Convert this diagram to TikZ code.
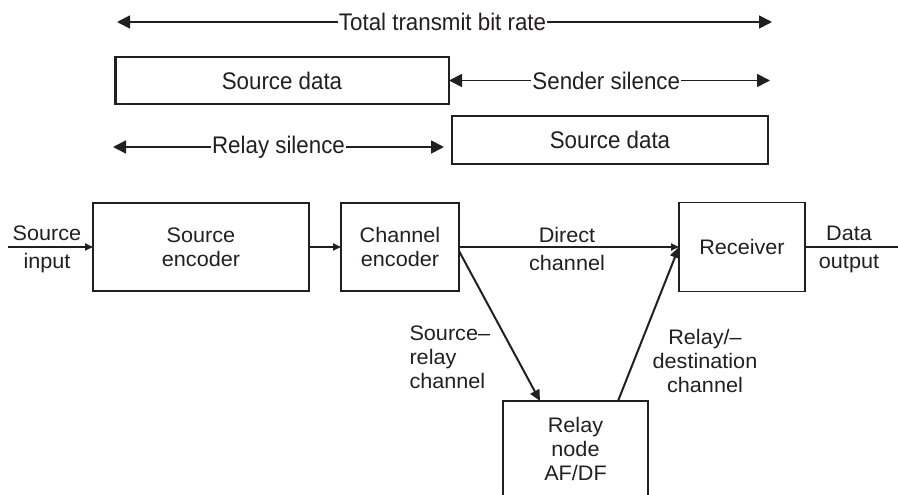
\documentclass[tikz,border=0pt]{standalone}
\usepackage{fontspec}
\usetikzlibrary{arrows.meta,calc}
\newfontfamily\botfont[FakeStretch=1.03]{Liberation Sans}
\newfontfamily\topfont[FakeStretch=0.93]{Liberation Sans}
\definecolor{ink}{RGB}{35,31,32}
\tikzset{
  box/.style={draw=ink, line width=1.8pt, inner sep=0pt, outer sep=0pt, align=center, text=ink},
  toplbl/.style={text=ink, font=\topfont\fontsize{24}{28}\selectfont},
  botlbl/.style={text=ink, align=center, font=\botfont\fontsize{21}{24}\selectfont},
  bigarr/.style={draw=ink, line width=1.8pt, {Triangle[length=13pt,width=13pt]}-{Triangle[length=13pt,width=13pt]}},
  smallarr/.style={draw=ink, line width=1.8pt, -{Triangle[length=8pt,width=7pt]}},
  midarr/.style={draw=ink, line width=2pt, -{Triangle[length=11pt,width=10pt]}},
  plain/.style={draw=ink, line width=1.8pt}
}
\begin{document}
\begin{tikzpicture}[x=1pt,y=-1pt]
\clip (0,0) rectangle (898,495);
\fill[white] (0,0) rectangle (898,495);

% timing rows
\node[box, minimum width=334pt, minimum height=47pt, toplbl] (sd1) at (282,80.5) {Source data};
\node[box, minimum width=316pt, minimum height=48pt, toplbl] (sd2) at (610,140) {Source data};
\draw[ink, line width=3pt] (sd1.north west) -- (sd1.south west);
\coordinate (tl) at (117,22);
\coordinate (tr) at (772,22);
\draw[bigarr] (tl) -- (tr) node[pos=0.497, fill=white, inner sep=1pt, toplbl] (tot) {Total transmit bit rate};
\coordinate (ssr) at (770,80.5);
\draw[bigarr] (sd1.east) -- (ssr) node[pos=0.49, fill=white, inner sep=1pt, toplbl] (ss) {Sender silence};
\coordinate (rsl) at (113,147);
\coordinate (rsr) at (444,147);
\draw[bigarr] (rsl) -- (rsr) node[midway, fill=white, inner sep=1pt, toplbl] (rs) {Relay silence};

% block diagram
\node[box, minimum width=216pt, minimum height=88pt, botlbl] (srcenc) at (201,247) {Source\\encoder};
\node[box, minimum width=118pt, minimum height=88pt, botlbl] (chenc) at (400,247) {Channel\\encoder};
\node[box, minimum width=126pt, minimum height=89pt, botlbl] (recv) at (742,247) {Receiver};
\node[box, minimum width=145pt, minimum height=95pt, botlbl] (relay) at (575.5,448.5) {Relay\\node\\AF/DF};

\coordinate (in) at (8,247);
\coordinate (out) at (900,247);
\draw[smallarr] (in) -- (srcenc.west);
\node[botlbl] (inlbl) at (47,249) {Source\\[4pt]input};
\draw[smallarr] (srcenc.east) -- (chenc.west);
\draw[smallarr] (chenc.east) -- (recv.west);
\node[botlbl] (dirlbl) at (567,249) {Direct\\[4pt]channel};
\draw[plain] (recv.east) -- (out);
\node[botlbl] (outlbl) at (849,249) {Data\\[4pt]output};

\draw[midarr] ([yshift=-4pt]chenc.east) -- ([xshift=37pt]relay.north west);
\draw[midarr] ([xshift=115pt]relay.north west) -- (recv.west);
\node[botlbl, align=left, anchor=west] (srlbl) at (406,357) {Source–\\relay\\channel};
\node[botlbl] (rdlbl) at (705,361) {Relay/–\\destination\\channel};
\end{tikzpicture}
\end{document}
